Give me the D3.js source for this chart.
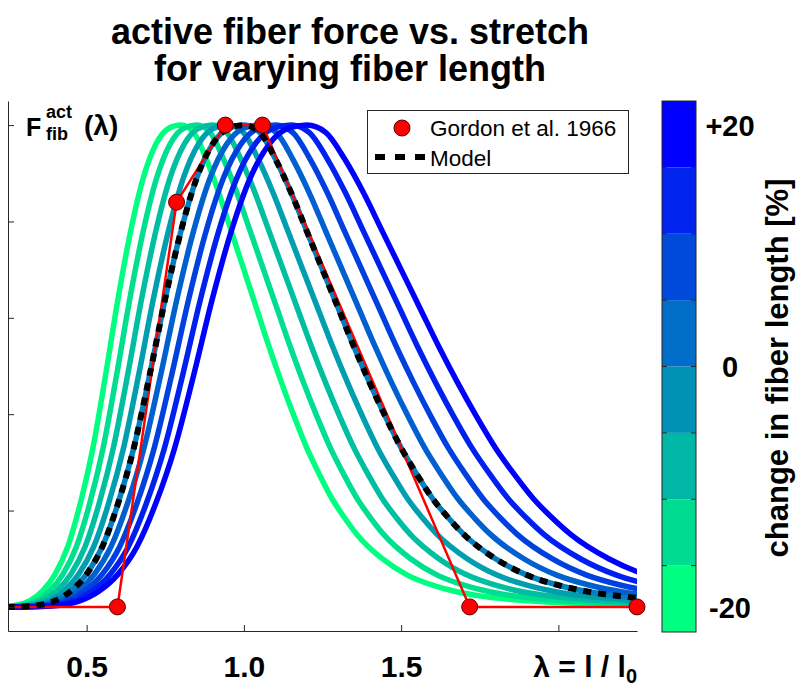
<!DOCTYPE html>
<html><head><meta charset="utf-8">
<script src="https://cdn.jsdelivr.net/npm/d3@7"></script>
<style>
body{margin:0;background:#fff}
svg{display:block}
text{font-family:"Liberation Sans",Arial,Helvetica,sans-serif;fill:#000}
</style>
</head><body>
<svg id="c" width="800" height="693"></svg>
<script>
// ---- data ----
const modelLambda = [0.15,0.20,0.25,0.30,0.35,0.40,0.45,0.50,0.55,0.60,0.65,0.70,0.75,0.80,0.85,0.90,0.95,1.00,1.05,1.10,1.15,1.20,1.25,1.30,1.35,1.40,1.45,1.50,1.55,1.60,1.65,1.70,1.80,1.90,2.00,2.10,2.20,2.30,2.50,2.80,3.00];
const modelForce  = [0.000,0.000,0.000,0.001,0.004,0.013,0.033,0.068,0.125,0.215,0.330,0.480,0.640,0.780,0.890,0.960,0.993,1.000,0.985,0.930,0.860,0.780,0.700,0.620,0.540,0.465,0.395,0.330,0.275,0.225,0.185,0.150,0.100,0.066,0.045,0.031,0.022,0.016,0.009,0.004,0.002];
const lengthChanges = [-20,-15,-10,-5,0,5,10,15,20];
const gordonLambda = [0.0,0.598,0.786,0.941,1.059,1.718,2.25];
const gordonForce  = [0.0,0.0,0.84,1.0,1.0,0.0,0.0];
const xTicks = [0.5,1.0,1.5,2.0];
const xTickLabels = ["0.5","1.0","1.5",""];
const yTicks = [0,0.2,0.4,0.6,0.8,1.0];
const cbTicks = [-20,0,20];
const cbTickLabels = ["-20","0","+20"];
const cbSegmentCount = 8;
const titleLines = ["active fiber force vs. stretch","for varying fiber length"];
const legendLabels = ["Gordon et al. 1966","Model"];

// ---- setup ----
const svg = d3.select("#c");
const axisColor = "#262626";
const x = d3.scaleLinear().domain([0.25,2.25]).range([8,637]);
const y = d3.scaleLinear().domain([-0.05,1.05]).range([631,101]);
const winter = d3.interpolateRgb("rgb(0,255,128)","rgb(0,0,255)");
const curveColor = d3.scaleLinear().domain([-20,20]).range([0,1]);

svg.append("defs").append("clipPath").attr("id","plotClip")
  .append("rect").attr("x",8).attr("y",101).attr("width",629).attr("height",530);

// title
svg.append("g").selectAll("text").data(titleLines).join("text")
  .attr("x",350).attr("y",(d,i)=>44+i*37)
  .attr("text-anchor","middle").style("font-size","36px").style("font-weight","bold").text(d=>d);

const plot = svg.append("g").attr("clip-path","url(#plotClip)");
const line = d3.line().x(d=>x(d[0])).y(d=>y(d[1])).curve(d3.curveMonotoneX);

// shifted curves
lengthChanges.forEach(dc=>{
  const s = 1+dc/100;
  const pts = modelLambda.map((l,i)=>[l*s, modelForce[i]]);
  plot.append("path").attr("d",line(pts)).attr("fill","none")
    .attr("stroke",winter(curveColor(dc))).attr("stroke-width",5.5);
});

// Gordon line
const gPts = gordonLambda.map((l,i)=>[l,gordonForce[i]]);
plot.append("path").attr("d",d3.line().x(d=>x(d[0])).y(d=>y(d[1]))(gPts))
  .attr("fill","none").attr("stroke","#ff0000").attr("stroke-width",2.5);

// model dashed
plot.append("path").attr("d",line(modelLambda.map((l,i)=>[l,modelForce[i]])))
  .attr("fill","none").attr("stroke","#000").attr("stroke-width",6)
  .attr("stroke-dasharray","8,7");

// Gordon markers
svg.append("g").selectAll("circle").data(gPts.filter(d=>d[0]>=0.25)).join("circle")
  .attr("cx",d=>x(d[0])).attr("cy",d=>y(d[1])).attr("r",8)
  .attr("fill","#ff0000").attr("stroke","#5a0000").attr("stroke-width",1);

// axes
const xAxis = svg.append("g").attr("transform","translate(0,631)")
  .call(d3.axisBottom(x).tickValues(xTicks).tickSizeInner(-6).tickSizeOuter(0)
    .tickPadding(25).tickFormat((d,i)=>xTickLabels[i]));
xAxis.select(".domain").attr("stroke",axisColor);
xAxis.selectAll(".tick line").attr("stroke",axisColor);
xAxis.selectAll("text").style("font-size","30px").style("font-weight","bold")
  .style("font-family","'Liberation Sans',Arial,sans-serif").attr("fill","#000");

const yAxis = svg.append("g").attr("transform","translate(8,0)")
  .call(d3.axisLeft(y).tickValues(yTicks).tickSizeInner(-6).tickSizeOuter(0).tickFormat(""));
yAxis.select(".domain").attr("stroke",axisColor);
yAxis.selectAll(".tick line").attr("stroke",axisColor);

// x label
const xl = svg.append("text").attr("x",637).attr("y",677).attr("text-anchor","end")
  .style("font-size","30px").style("font-weight","bold");
xl.append("tspan").text("\u03bb = l / l");
xl.append("tspan").style("font-size","20px").attr("dy",6).text("0");

// y label
const yl = svg.append("g").style("font-weight","bold");
yl.append("text").attr("x",26).attr("y",136).style("font-size","25px").text("F");
yl.append("text").attr("x",46).attr("y",118).style("font-size","18px").text("act");
yl.append("text").attr("x",46).attr("y",140).style("font-size","18px").text("fib");
yl.append("text").attr("x",84).attr("y",135).style("font-size","28px").text("(\u03bb)");

// legend
const lg = svg.append("g");
lg.append("rect").attr("x",367.5).attr("y",110.5).attr("width",261).attr("height",63)
  .attr("fill","#fff").attr("stroke",axisColor).attr("stroke-width",1);
lg.append("circle").attr("cx",402).attr("cy",128).attr("r",8)
  .attr("fill","#ff0000").attr("stroke","#5a0000");
lg.append("line").attr("x1",375).attr("x2",427).attr("y1",157).attr("y2",157)
  .attr("stroke","#000").attr("stroke-width",6).attr("stroke-dasharray","10,10");
lg.selectAll("text").data(legendLabels).join("text")
  .attr("x",430).attr("y",(d,i)=>136+i*30)
  .style("font-size","22.5px").style("font-weight","normal").text(d=>d);

// colorbar
const cb = d3.scaleLinear().domain([-22,22]).range([632,101]);
const segW = 44/cbSegmentCount;
const segs = d3.range(cbSegmentCount).map(i=>[-22+i*segW,-22+(i+1)*segW,i]);
const cbg = svg.append("g");
cbg.selectAll("rect.seg").data(segs).join("rect").attr("class","seg")
  .attr("x",662).attr("width",34).attr("y",d=>cb(d[1])).attr("height",d=>cb(d[0])-cb(d[1]))
  .attr("fill",d=>winter(d[2]/(cbSegmentCount-1)));
segs.slice(1).forEach(d=>{
  cbg.append("line").attr("x1",662).attr("x2",667).attr("y1",cb(d[0])).attr("y2",cb(d[0])).attr("stroke",axisColor);
  cbg.append("line").attr("x1",691).attr("x2",696).attr("y1",cb(d[0])).attr("y2",cb(d[0])).attr("stroke",axisColor);
});
cbg.append("rect").attr("x",662).attr("y",101).attr("width",34).attr("height",531)
  .attr("fill","none").attr("stroke",axisColor).attr("stroke-width",1);
cbg.selectAll("text").data(cbTicks).join("text")
  .attr("x",730).attr("y",d=>cb(d)).attr("dy","0.36em").attr("text-anchor","middle")
  .style("font-size","29px").style("font-weight","bold").text((d,i)=>cbTickLabels[i]);
svg.append("text").attr("transform","translate(788,368) rotate(-90)")
  .attr("text-anchor","middle").style("font-size","31px").style("font-weight","bold")
  .text("change in fiber length [%]");
</script>
</body></html>
